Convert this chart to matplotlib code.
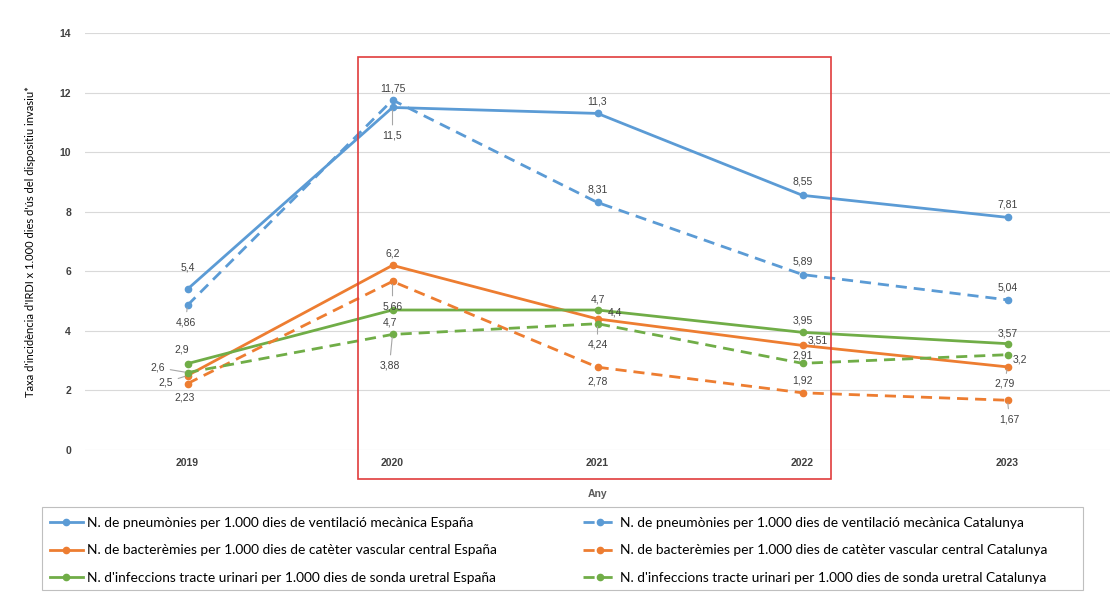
import matplotlib; matplotlib.use('Agg')
import matplotlib.pyplot as plt
from matplotlib.patches import Rectangle

years = ['2019', '2020', '2021', '2022', '2023']
pneu_es = [5.4, 11.5, 11.3, 8.55, 7.81]
pneu_cat = [4.86, 11.75, 8.31, 5.89, 5.04]
bact_es = [2.5, 6.2, 4.4, 3.51, 2.79]
bact_cat = [2.23, 5.66, 2.78, 1.92, 1.67]
itu_es = [2.9, 4.7, 4.7, 3.95, 3.57]
itu_cat = [2.6, 3.88, 4.24, 2.91, 3.2]

names = ["N. de pneumònies per 1.000 dies de ventilació mecànica España",
         "N. de bacterèmies per 1.000 dies de catèter vascular central España",
         "N. d'infeccions tracte urinari per 1.000 dies de sonda uretral España",
         "N. de pneumònies per 1.000 dies de ventilació mecànica Catalunya",
         "N. de bacterèmies per 1.000 dies de catèter vascular central Catalunya",
         "N. d'infeccions tracte urinari per 1.000 dies de sonda uretral Catalunya"]

BLUE, ORANGE, GREEN = '#5B9BD5', '#ED7D31', '#70AD47'

# label offsets in pixels (dx, dy, leader line?)
offs = {
    0: [(0, 22, 0), (0, -28, 1), (0, 12, 0), (0, 14, 0), (0, 13, 0)],
    3: [(-2, -17, 1), (0, 12, 0), (0, 13, 0), (0, 13, 0), (0, 12, 0)],
    1: [(-22, -7, 1), (0, 12, 0), (17, 6, 0), (15, 5, 0), (-3, -17, 1)],
    4: [(-3, -14, 0), (0, -25, 1), (0, -14, 0), (0, 12, 0), (2, -19, 1)],
    2: [(-6, 14, 0), (-3, -12, 0), (0, 11, 0), (0, 12, 0), (0, 10, 0)],
    5: [(-30, 5, 1), (-3, -31, 1), (0, -21, 1), (0, 8, 0), (12, -5, 0)],
}

fig = plt.figure(figsize=(11.13, 5.93), dpi=100)
ax = fig.add_axes([85/1113, 1-450/593, 1025/1113, 417/593])
x = list(range(len(years)))
series = [(pneu_es, BLUE, '-'), (bact_es, ORANGE, '-'), (itu_es, GREEN, '-'),
          (pneu_cat, BLUE, '--'), (bact_cat, ORANGE, '--'), (itu_cat, GREEN, '--')]
handles = []
for i, (vals, col, ls) in enumerate(series):
    h, = ax.plot(x, vals, ls, color=col, lw=2, marker='o', ms=4.5, label=names[i],
                 dashes=(4, 2.5) if ls == '--' else (None, None), zorder=3)
    handles.append(h)
    for j, v in enumerate(vals):
        dx, dy, lead = offs[i][j]
        ap = dict(arrowstyle='-', color='#A6A6A6', lw=0.8, shrinkA=2, shrinkB=2) if lead else None
        ax.annotate(f"{v:g}".replace('.', ','), (j, v), xytext=(dx, dy), textcoords='offset pixels',
                    ha='center', va='center', fontsize=7.5, color='#404040',
                    family='Liberation Sans', arrowprops=ap, zorder=4)

ax.set_xlim(-0.5, 4.5)
ax.set_ylim(0, 14)
ax.set_yticks(range(0, 15, 2))
ax.set_xticks(x)
ax.set_xticklabels(years, fontweight='bold', fontsize=7.5, color='#404040', family='Liberation Sans')
for t in ax.get_yticklabels():
    t.set_fontweight('bold'); t.set_fontsize(7.5); t.set_color('#404040'); t.set_family('Liberation Sans')
ax.tick_params(length=0, pad=6)
ax.tick_params(axis='y', pad=10)
ax.grid(axis='y', color='#D9D9D9', lw=0.8)
ax.set_axisbelow(True)
for s in ax.spines.values():
    s.set_visible(False)
ax.set_xlabel('Any', fontsize=7.5, fontweight='bold', color='#595959', family='Liberation Sans', labelpad=15)
ax.set_ylabel("Taxa d'incidència d'IRDI x 1.000 dies d'ús del dispositiu invasiu*", fontsize=8,
              family='Lato', color='black', labelpad=17)

ax.add_patch(Rectangle((0.83, -0.97), 2.31, 14.16, fill=False, ec='#E03C3C', lw=1.2,
                       clip_on=False, zorder=5))

leg = fig.legend(handles=handles, ncol=2, loc='upper left',
                 bbox_to_anchor=(42/1113, 1-509/593), frameon=False,
                 prop={'family': 'Lato', 'size': 9.9},
                 handlelength=2.4, labelspacing=1.15, borderpad=0.55, handletextpad=0.3,
                 borderaxespad=0, columnspacing=6.3)
# legend box
fig.patches.append(Rectangle((42/1113, 3/593), 1041/1113, 83/593, transform=fig.transFigure,
                             fill=False, ec='#BFBFBF', lw=0.8))

fig.savefig('out.png', dpi=100)
